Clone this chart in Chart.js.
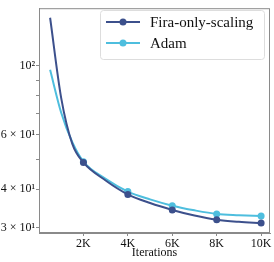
<!DOCTYPE html>
<html>
<head>
<meta charset="utf-8">
<script src="https://cdn.jsdelivr.net/npm/chart.js@4"></script>
<style>
  html, body { margin: 0; padding: 0; background: #fff; }
  #chart { display: block; }
</style>
</head>
<body>
<canvas id="chart" width="274" height="262"></canvas>
<script>
// Values
const iterations = [500, 1000, 1500, 2000, 3000, 4000, 5000, 6000, 7000, 8000, 9000, 10000];
const firaOnlyScaling = [143, 78.7, 56, 48.8, 42.7, 38.5, 36.1, 34.3, 32.9, 31.9, 31.4, 31.1];
const adam = [97.1, 70.6, 56.7, 49.1, 43.2, 39.3, 37.1, 35.4, 34.2, 33.3, 33.0, 32.8];
const markedIterations = [2000, 4000, 6000, 8000, 10000];

const xTicks = [2000, 4000, 6000, 8000, 10000];
const xTickLabels = ['2K', '4K', '6K', '8K', '10K'];
const yTicks = [30, 40, 50, 60, 70, 80, 90, 100];
const yTickLabels = { 30: '3 × 10¹', 40: '4 × 10¹', 60: '6 × 10¹', 100: '10²' };

const firaColor = 'rgb(60, 80, 140)';
const adamColor = 'rgb(78, 190, 222)';
const serif = '"Liberation Serif", "DejaVu Serif", serif';

// Keep markers only on every 2K
function markerRadius(ctx) {
    const x = iterations[ctx.dataIndex];
    return markedIterations.includes(x) ? 3.5 : 0;
}

function toPoints(values) {
    return iterations.map((x, i) => ({ x: x, y: values[i] }));
}

// Frame around the plot and a legend inside the upper right corner
const framePlugin = {
    id: 'frame',
    afterDraw(chart) {
        const { ctx, chartArea } = chart;
        ctx.save();
        ctx.strokeStyle = '#8a8a8a';
        ctx.lineWidth = 1;
        ctx.strokeRect(chartArea.left + 0.5, chartArea.top + 0.5,
            chartArea.right - chartArea.left - 1, chartArea.bottom - chartArea.top - 1);

        // legend box
        const bx = 100.5, by = 10.5, bw = 164, bh = 49, r = 3;
        ctx.beginPath();
        ctx.moveTo(bx + r, by);
        ctx.arcTo(bx + bw, by, bx + bw, by + bh, r);
        ctx.arcTo(bx + bw, by + bh, bx, by + bh, r);
        ctx.arcTo(bx, by + bh, bx, by, r);
        ctx.arcTo(bx, by, bx + bw, by, r);
        ctx.closePath();
        ctx.fillStyle = 'rgba(255,255,255,0.8)';
        ctx.fill();
        ctx.strokeStyle = '#dddddd';
        ctx.stroke();

        const rows = [22, 43];
        chart.data.datasets.forEach((ds, i) => {
            const y = rows[i];
            ctx.strokeStyle = ds.borderColor;
            ctx.lineWidth = 2;
            ctx.beginPath();
            ctx.moveTo(106, y);
            ctx.lineTo(140, y);
            ctx.stroke();
            ctx.fillStyle = ds.borderColor;
            ctx.beginPath();
            ctx.arc(123, y, 3.5, 0, Math.PI * 2);
            ctx.fill();
            ctx.fillStyle = '#111';
            ctx.font = '15px ' + serif;
            ctx.textBaseline = 'middle';
            ctx.textAlign = 'left';
            ctx.fillText(ds.label, 150, y + 1);
        });
        ctx.restore();
    }
};

new Chart(document.getElementById('chart'), {
    type: 'line',
    data: {
        datasets: [{
            label: 'Fira-only-scaling',
            data: toPoints(firaOnlyScaling),
            borderColor: firaColor,
            backgroundColor: firaColor,
            borderWidth: 2,
            pointRadius: markerRadius,
            pointBorderWidth: 0,
            cubicInterpolationMode: 'monotone'
        }, {
            label: 'Adam',
            data: toPoints(adam),
            borderColor: adamColor,
            backgroundColor: adamColor,
            borderWidth: 2,
            pointRadius: markerRadius,
            pointBorderWidth: 0,
            cubicInterpolationMode: 'monotone'
        }]
    },
    options: {
        responsive: false,
        animation: false,
        events: [],
        layout: { padding: { top: 3, right: 4, left: 0, bottom: 0 } },
        plugins: {
            legend: { display: false },
            tooltip: { enabled: false }
        },
        scales: {
            x: {
                type: 'linear',
                min: 0,
                max: 10400,
                afterFit: (scale) => { scale.height = 29; },
                afterBuildTicks: (scale) => { scale.ticks = xTicks.map(v => ({ value: v })); },
                grid: { drawOnChartArea: false, tickLength: 3, color: '#8a8a8a' },
                border: { color: '#8a8a8a' },
                ticks: {
                    autoSkip: false,
                    maxRotation: 0,
                    padding: 1,
                    color: '#111',
                    font: { family: serif, size: 12 },
                    callback: (value) => xTickLabels[xTicks.indexOf(value)] || ''
                },
                title: {
                    display: true,
                    text: 'Iterations',
                    color: '#111',
                    font: { family: serif, size: 12 },
                    padding: { top: 0, bottom: 2 }
                }
            },
            y: {
                type: 'logarithmic',
                min: 28.9,
                max: 153.5,
                afterFit: (scale) => { scale.width = 39; },
                afterBuildTicks: (scale) => { scale.ticks = yTicks.map(v => ({ value: v })); },
                grid: { drawOnChartArea: false, tickLength: 3, color: '#8a8a8a' },
                border: { color: '#8a8a8a' },
                ticks: {
                    autoSkip: false,
                    padding: 1,
                    color: '#111',
                    font: { family: serif, size: 12 },
                    callback: (value) => yTickLabels[value] || ''
                }
            }
        }
    },
    plugins: [framePlugin]
});
</script>
</body>
</html>
